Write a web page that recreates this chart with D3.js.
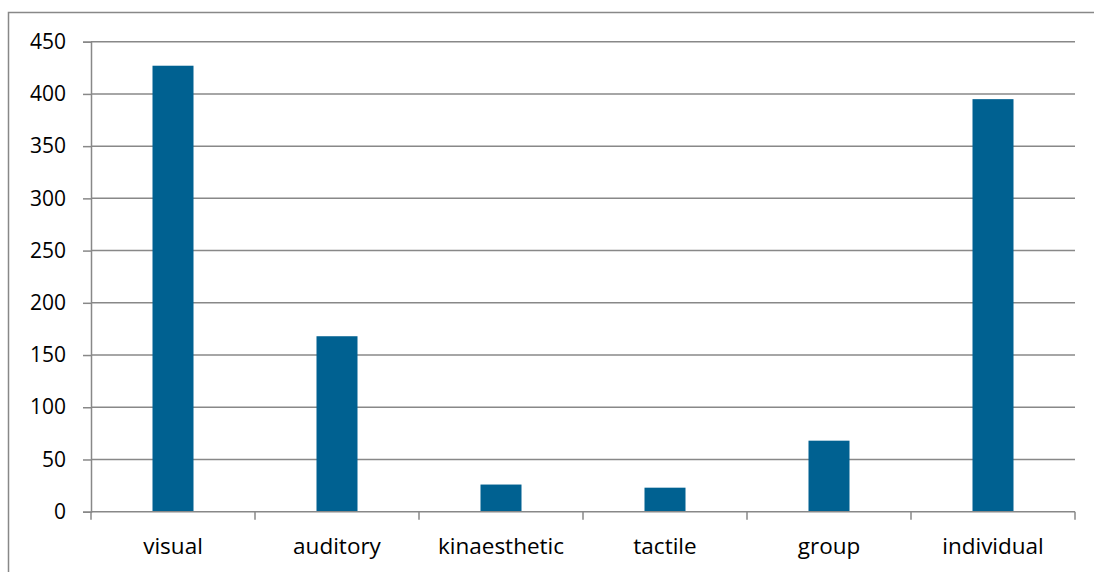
<!DOCTYPE html>
<html><head><meta charset="utf-8">
<script src="https://cdn.jsdelivr.net/npm/d3@7"></script>
<style>html,body{margin:0;padding:0;background:#fff;}svg{display:block;}</style>
</head><body>
<svg id="c" width="1094" height="572"></svg>
<script>
const categories = ["visual","auditory","kinaesthetic","tactile","group","individual"];
const values = [427, 168, 26, 23, 68, 395];
const yTicks = [0,50,100,150,200,250,300,350,400,450];

(function(){
const svg = d3.select("#c");
const W = 1094, H = 572;
const mLeft = 91, mRight = 1075, mTop = 41.7, mBottom = 511.7;
const font = "'Open Sans', sans-serif";

// outer border
svg.append("path").attr("d", `M8.5,${H} L8.5,12.5 L${W},12.5`)
  .attr("fill","none").attr("stroke","#888").attr("stroke-width",1.5);

const x = d3.scaleBand().domain(categories).range([mLeft, mRight]).paddingInner(0.75).paddingOuter(0.375);
const y = d3.scaleLinear().domain([0,450]).range([mBottom, mTop]);

// y axis
const yAxis = d3.axisLeft(y).tickValues(yTicks).tickSize(8).tickPadding(10).tickFormat(d3.format("d"));
const gy = svg.append("g").attr("transform",`translate(${mLeft},0)`).call(yAxis);
gy.select(".domain").attr("stroke","#888").attr("stroke-width",1.5);
gy.selectAll(".tick line").attr("stroke","#888").attr("stroke-width",1.5);
gy.selectAll(".tick text").attr("font-family",font).attr("font-size",21).attr("fill","#000").attr("x",-25);

// gridlines
svg.append("g").selectAll("line").data(yTicks.filter(d=>d>0)).join("line")
  .attr("x1",mLeft).attr("x2",mRight).attr("y1",d=>y(d)).attr("y2",d=>y(d))
  .attr("stroke","#888").attr("stroke-width",1.5);

// bars
svg.append("g").selectAll("rect").data(values).join("rect")
  .attr("x",(d,i)=>x(categories[i])).attr("width",x.bandwidth())
  .attr("y",d=>y(d)).attr("height",d=>mBottom-y(d))
  .attr("fill","#006191");

// x axis
const step = (mRight-mLeft)/categories.length;
const gx = svg.append("g");
gx.append("line").attr("x1",mLeft).attr("x2",mRight).attr("y1",mBottom).attr("y2",mBottom)
  .attr("stroke","#888").attr("stroke-width",1.5);
gx.selectAll("line.t").data(d3.range(categories.length+1)).join("line").attr("class","t")
  .attr("x1",i=>mLeft+i*step).attr("x2",i=>mLeft+i*step).attr("y1",mBottom).attr("y2",mBottom+8)
  .attr("stroke","#888").attr("stroke-width",1.5);
gx.selectAll("text").data(categories).join("text")
  .attr("x",d=>x(d)+x.bandwidth()/2).attr("y",554)
  .attr("text-anchor","middle").attr("font-family",font).attr("font-size",22.5).attr("fill","#000")
  .text(d=>d);
})();
</script>
</body></html>
